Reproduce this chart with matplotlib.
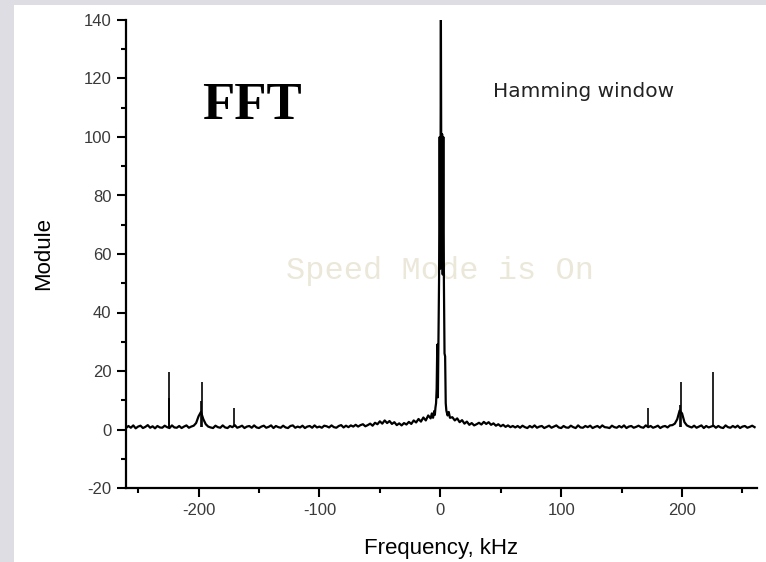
import numpy as np
import matplotlib
matplotlib.use("Agg")
import matplotlib.pyplot as plt
from matplotlib.patches import Rectangle
from matplotlib.ticker import MultipleLocator


# ===============================
# Data
# ===============================

# noise floor, left side: -260 .. -10 kHz, 2 kHz bins
LEFT_START, LEFT_STOP, BIN = -260, -10, 2
left_mod = [
    0.5, 1.2, 0.6, 1.4, 0.4, 1.0, 1.3, 0.5, 0.9, 1.5, 0.6, 1.1, 0.4, 1.2, 0.7,
    0.6, 1.3, 0.8, 0.5, 1.4, 0.7, 0.6, 1.2, 0.5, 1.0, 1.4, 0.6, 1.0,
    1.3, 2.2, 4.5, 6.0, 3.5, 1.8, 1.0,
    0.7, 0.5, 1.3, 0.8, 0.6, 1.4, 0.7, 0.5, 1.2, 0.8, 1.5, 0.6, 0.9, 1.3, 0.5,
    1.0, 1.2, 0.6, 1.4, 0.7, 0.5,
    1.0, 1.3, 0.6, 0.9, 1.4, 0.5, 1.2, 0.8, 0.6, 1.3, 0.7, 0.5, 1.2, 1.4, 0.6,
    1.0, 0.7, 1.3, 0.5, 1.0, 1.2, 0.6, 1.4, 0.7,
    1.0, 0.6, 1.3, 1.1, 0.7, 1.4, 0.8, 0.6, 1.2, 1.5, 0.7, 1.3, 0.8, 1.4, 1.0,
    1.6, 1.0, 1.5, 1.8, 1.1,
    1.5, 2.0, 1.3, 2.3, 1.8, 2.8, 2.0, 3.1, 2.2, 2.9, 1.9, 2.5, 1.5, 2.1, 1.4,
    2.2,
    1.7, 2.6, 1.9, 3.1, 2.4, 3.6, 2.7, 4.1, 3.1, 4.8,
]

# main lobe around 0 kHz
center_freq = [-8, -7, -6, -5, -4.5, -4, -3.5, -3, -2.5, -2, -1.5, -1, -0.5,
               0, 0.5, 1, 1.5, 2, 2.5, 3, 3.5, 4, 4.5, 5, 6, 7, 8]
center_mod = [3.8, 5.5, 4.0, 6.3, 5.0, 7.5, 9.0, 14, 29, 11, 30, 52, 100,
              55, 140, 58, 101, 53, 100, 50, 26, 25, 9, 6.5, 4.8, 6.0, 4.0]

# noise floor, right side: 10 .. 260 kHz, 2 kHz bins
RIGHT_START, RIGHT_STOP = 10, 260
right_mod = [
    4.2, 3.1, 3.8, 2.5, 3.2, 2.0, 2.7, 1.6, 2.2, 1.4,
    1.8, 2.3, 1.7, 2.6, 1.9, 2.5, 1.6, 2.1, 1.3, 1.8, 1.1, 1.6, 0.9, 1.4, 0.8,
    1.2,
    0.7, 1.2, 0.6, 1.3, 0.8, 0.5, 1.2, 0.7, 1.4, 0.6, 1.0, 1.2, 0.5, 0.9, 1.3,
    0.6, 1.0, 1.4, 0.7, 0.5,
    1.2, 0.7, 0.6, 1.3, 0.8, 0.5, 1.4, 0.7, 0.6, 1.2, 0.8, 1.3, 0.5, 0.9, 1.2,
    0.6, 1.4, 0.8, 0.7, 0.5, 1.3, 0.8, 0.6, 1.2, 0.7, 1.4, 0.5, 1.0, 1.2, 0.6,
    0.9, 1.3, 0.8, 0.6,
    1.4, 0.8, 1.2, 0.6, 0.9, 1.3, 0.5, 1.0, 1.2, 0.7, 1.4, 1.5,
    2.0, 3.5, 6.5, 5.5, 2.5, 1.4, 1.0,
    0.7, 1.3, 0.6, 1.0, 1.4, 0.5, 1.2, 0.7, 1.0, 1.3, 0.6, 1.2, 0.7, 0.5, 1.4,
    0.8, 0.6, 1.2, 0.7, 1.3, 0.5, 1.0, 1.2, 0.6, 0.9, 1.3, 0.8,
]

# narrow spurs (kHz, module)
spur_freq = [-224.8, -224.2, -198.2, -197.5, -170.5, 172.0, 198.6, 199.2, 226.0]
spur_mod = [19.7, 10.8, 9.7, 16.3, 7.3, 7.3, 8.4, 16.3, 19.7]
SPUR_BASE = 0.8

X_TICKS = [-200, -100, 0, 100, 200]
Y_TICKS = [-20, 0, 20, 40, 60, 80, 100, 120, 140]


# ===============================
# Build trace
# ===============================

left_freq = np.arange(LEFT_START, LEFT_STOP + 1, BIN)
right_freq = np.arange(RIGHT_START, RIGHT_STOP + 1, BIN)

freq = np.concatenate([left_freq, center_freq, right_freq])
module = np.concatenate([left_mod, center_mod, right_mod])


# ===============================
# Plot
# ===============================

plt.rcParams["font.family"] = ["Liberation Sans", "DejaVu Sans"]

fig = plt.figure(figsize=(7.66, 5.62), dpi=100)
fig.patch.set_facecolor("#dedde4")
fig.add_artist(Rectangle((14 / 766, 0), 1, (562 - 5) / 562,
                         transform=fig.transFigure, facecolor="white",
                         edgecolor="none", zorder=0))

ax = fig.add_axes([126 / 766, (562 - 488) / 562, 631 / 766, 468 / 562])
ax.set_facecolor("none")

ax.plot(freq, module, color="black", lw=1.6, zorder=3)
ax.vlines(spur_freq, SPUR_BASE, spur_mod, color="black", lw=1.2, zorder=3)

ax.set_xlim(-260, 262)
ax.set_ylim(-20, 140)

for side in ["top", "right"]:
    ax.spines[side].set_visible(False)
for side in ["left", "bottom"]:
    ax.spines[side].set_linewidth(1.6)

ax.set_xticks(X_TICKS)
ax.set_xticklabels([str(v) for v in X_TICKS])
ax.set_yticks(Y_TICKS)
ax.set_yticklabels([str(v) for v in Y_TICKS])
ax.xaxis.set_minor_locator(MultipleLocator(50))
ax.yaxis.set_minor_locator(MultipleLocator(10))
ax.tick_params(which="major", direction="out", length=6.5, width=1.5,
               labelsize=12, labelcolor="#3a3a3a", pad=4)
ax.tick_params(which="minor", direction="out", length=3.5, width=1.5)

ax.set_xlabel("Frequency, kHz", fontsize=16, labelpad=15)
ax.set_ylabel("Module", fontsize=16, labelpad=21)

ax.text(0.120, 0.788, "FFT", transform=ax.transAxes, fontsize=38,
        fontweight="bold", family="Liberation Serif", va="baseline")
ax.text(0.582, 0.835, "Hamming window", transform=ax.transAxes, fontsize=14.5,
        family="DejaVu Sans", va="baseline", color="#222222")
ax.text(0.4976, 0.4466, "Speed Mode is On", transform=ax.transAxes,
        fontsize=23, family="Liberation Mono", color="#ebe8da",
        ha="center", va="baseline", zorder=1)

fig.savefig("out.png", dpi=100)
